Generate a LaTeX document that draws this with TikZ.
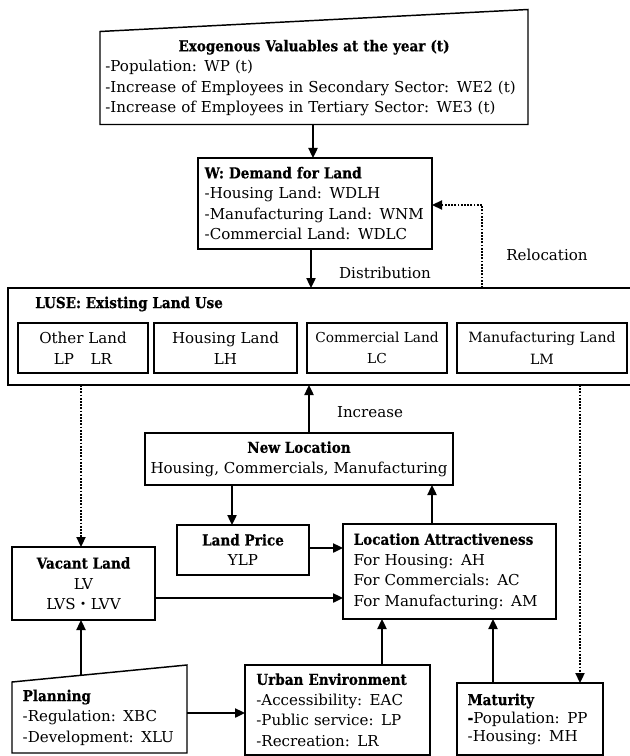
\documentclass[tikz,border=0pt]{standalone}
\usepackage{fontspec}
\setmainfont{DejaVu Serif}[BoldFeatures={FakeStretch=0.9,FakeBold=0.6}]
\newfontfamily\cjk{Noto Sans CJK JP}
\usetikzlibrary{arrows.meta,calc}
\begin{document}
\begin{tikzpicture}[x=0.75pt,y=-0.75pt,
  box/.style={draw, line width=1.1pt, inner sep=0pt, outer sep=0pt, font=\fontsize{11.3}{15.4}\selectfont},
  subbox/.style={draw, line width=0.9pt, inner sep=0pt, outer sep=0pt, align=center, minimum height=37.5pt, font=\fontsize{11.3}{16}\selectfont},
  arr/.style={line width=1.6pt, -{Triangle[length=7.5pt,width=6.8pt]}},
  dotarr/.style={line width=1.5pt, dash pattern=on 1.3pt off 1.1pt, -{Triangle[length=7.5pt,width=6.8pt]}},
  lbl/.style={font=\fontsize{11.3}{14}\selectfont, inner sep=0pt}]
\useasboundingbox (0,0) rectangle (629,756);

% Exogenous (manual input shape)
\node[box, draw=none, minimum width=321pt, minimum height=69.75pt, text width=313pt, inner xsep=4pt, align=left] (exo) at (314,78)
  {\makebox[\linewidth]{\textbf{Exogenous Valuables at the year (t)}}\\
   -Population: WP (t)\\
   -Increase of Employees in Secondary Sector: WE2 (t)\\
   -Increase of Employees in Tertiary Sector: WE3 (t)};
\coordinate (exosw) at (100,123);
\draw[line width=1.1pt] (exo.south west) -- (exo.south east) -- ($(exo.north east)+(0,-22)$) -- (exo.north west) -- cycle;

% W
\node[box, minimum width=175.5pt, minimum height=68.25pt, text width=165.5pt, inner xsep=5pt, align=left] (w) at (315,203.5)
  {\textbf{W: Demand for Land}\\
   -Housing Land: WDLH\\
   -Manufacturing Land: WNM\\
   -Commercial Land: WDLC};

% LUSE
\node[box, minimum width=468pt, minimum height=72.75pt] (luse) at (320,336.5) {};
\node[lbl, anchor=west] (luset) at (35,304) {\textbf{LUSE: Existing Land Use}};
\node[subbox, minimum width=97.5pt] (other) at (83,348) {Other Land\\LP\hspace{1.1em}LR};
\node[subbox, minimum width=107.25pt] (house) at (225.5,348) {Housing Land\\LH};
\node[subbox, minimum width=105pt, font=\fontsize{10.3}{16}\selectfont] (comm) at (377,348) {Commercial Land\\LC};
\node[subbox, minimum width=127.5pt, font=\fontsize{10.6}{16}\selectfont] (manu) at (542,348) {Manufacturing Land\\LM};

% New Location
\node[box, minimum width=231pt, minimum height=39pt, align=center] (nl) at (299,459)
  {\textbf{New Location}\\Housing, Commercials, Manufacturing};

% Land Price
\node[box, minimum width=99pt, minimum height=37.5pt, align=center] (lp) at (243,550)
  {\textbf{Land Price}\\YLP};

% Location Attractiveness
\node[box, minimum width=159.75pt, minimum height=71.25pt, text width=143.75pt, inner xsep=8pt, align=left] (la) at (449.5,571.5)
  {\textbf{Location Attractiveness}\\
   For Housing: AH\\
   For Commercials: AC\\
   For Manufacturing: AM};

% Vacant Land
\node[box, minimum width=107.25pt, minimum height=54.75pt, align=center] (vac) at (83.5,583.5)
  {\textbf{Vacant Land}\\LV\\LVS{\cjk ・}LVV};

% Planning (manual input shape)
\node[box, draw=none, minimum width=131.25pt, minimum height=53.25pt, text width=115.25pt, inner xsep=8pt, align=left] (pl) at (99.5,717.5)
  {\textbf{Planning}\\
   -Regulation: XBC\\
   -Development: XLU};
\draw[line width=1.1pt] (pl.south west) -- (pl.south east) -- ($(pl.north east)+(0,-17)$) -- (pl.north west) -- cycle;

% Urban Environment
\node[box, minimum width=138.75pt, minimum height=67.5pt, text width=121.75pt, inner xsep=8.5pt, align=left] (ue) at (337.5,710)
  {\textbf{Urban Environment}\\
   -Accessibility: EAC\\
   -Public service: LP\\
   -Recreation: LR};

% Maturity
\node[box, minimum width=109.5pt, minimum height=54pt, text width=93.5pt, inner xsep=8pt, align=left, font=\fontsize{11.3}{13.5}\selectfont] (mat) at (530,719)
  {\textbf{Maturity}\\
   \textbf{-}Population: PP\\
   -Housing: MH};

% labels
\node[lbl] (dist) at (385,273) {Distribution};
\node[lbl] (reloc) at (547,255) {Relocation};
\node[lbl] (incr) at (370,412) {Increase};

% connectors
\draw[arr] (exo.south -| 313,0) -- (w.north -| 313,0);
\draw[arr] (w.south -| 311,0) -- (luse.north -| 311,0);
\draw[dotarr] (luse.north -| 482,0) |- (w.east |- 0,205);
\draw[arr] (nl.north -| 309,0) -- (luse.south -| 309,0);
\draw[arr] (nl.south -| 232,0) -- (lp.north -| 232,0);
\draw[arr] (la.north -| 432,0) -- (nl.south -| 432,0);
\draw[arr] (lp.east |- 0,548) -- (la.west |- 0,548);
\draw[arr] (vac.east |- 0,598) -- (la.west |- 0,598);
\draw[dotarr] (luse.south -| 81,0) -- (vac.north -| 81,0);
\coordinate (pltop) at (81,675.3);
\draw[arr] (pltop) -- (vac.south -| pltop);
\draw[arr] (pl.east |- 0,713) -- (ue.west |- 0,713);
\draw[arr] (ue.north -| 382,0) -- (la.south -| 382,0);
\draw[arr] (mat.north -| 493,0) -- (la.south -| 493,0);
\draw[dotarr] (luse.south -| 580,0) -- (mat.north -| 580,0);
\end{tikzpicture}
\end{document}
